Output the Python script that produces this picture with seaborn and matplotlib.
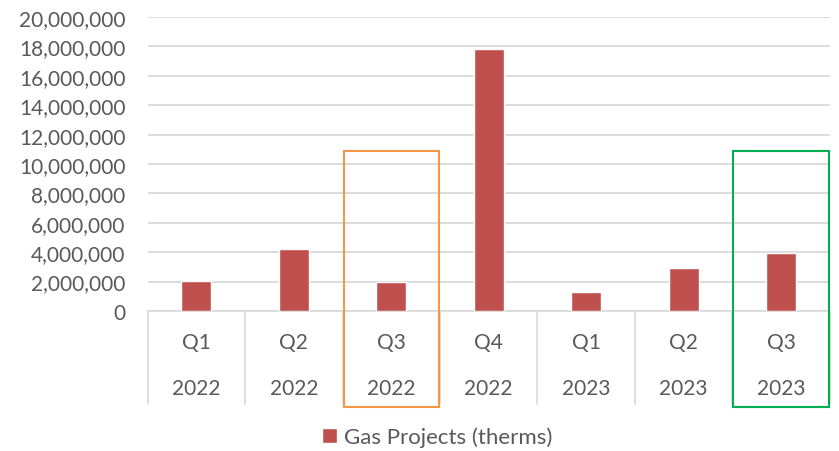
import pandas as pd
import matplotlib
matplotlib.use("Agg")
import matplotlib.pyplot as plt
import matplotlib.ticker as mtick
import matplotlib.transforms as mtrans
from matplotlib.patches import Rectangle
import seaborn as sns

quarters = ["Q1", "Q2", "Q3", "Q4", "Q1", "Q2", "Q3"]
years = ["2022", "2022", "2022", "2022", "2023", "2023", "2023"]
gas_therms = [2050000, 4200000, 1950000, 17850000, 1300000, 2900000, 3950000]
highlight = {2: "#F79646", 6: "#00B050"}

sns.set_theme(style="white")
plt.rcParams["font.family"] = ["Lato", "DejaVu Sans"]
text_color = "#595959"
grid_color = "#D9D9D9"

df = pd.DataFrame({"period": [f"{q} {y}" for q, y in zip(quarters, years)],
                   "therms": gas_therms})

fig = plt.figure(figsize=(8.39, 4.52), dpi=100)
ax = fig.add_axes([0.176, 0.310, 0.813, 0.650])

sns.barplot(data=df, x="period", y="therms", color="#C0504D", width=0.31,
            saturation=1, label="Gas Projects (therms)", ax=ax, zorder=3)

ax.set_ylim(0, 20000000)
ax.set_xlim(-0.5, len(df) - 0.5)
ax.yaxis.set_major_locator(mtick.MultipleLocator(2000000))
ax.yaxis.set_major_formatter(mtick.FuncFormatter(lambda x, _: f"{x:,.0f}"))
ax.grid(axis="y", color=grid_color, linewidth=1.3, zorder=0)
for s in ["top", "right", "left"]:
    ax.spines[s].set_visible(False)
ax.spines["bottom"].set_color(grid_color)
ax.spines["bottom"].set_linewidth(1.2)
ax.tick_params(axis="y", labelsize=15, colors=text_color, length=0, pad=16)
ax.tick_params(axis="x", labelsize=15, colors=text_color, length=0, pad=15)
ax.set_xticks(range(len(df)))
ax.set_xticklabels(quarters)
ax.set_xlabel("")
ax.set_ylabel("")

# second level of category axis
trans = mtrans.blended_transform_factory(ax.transData, ax.transAxes)
for i, y in enumerate(years):
    ax.text(i, -0.264, y, transform=trans, ha="center", va="center",
            fontsize=15, color=text_color)
for i in range(len(df) + 1):
    ax.plot([i - 0.5, i - 0.5], [0, -0.317], transform=trans, color=grid_color,
            linewidth=1.2, clip_on=False)

# highlight boxes
for i, col in highlight.items():
    ax.add_patch(Rectangle((i - 0.49, -0.327), 0.98, 0.871, transform=trans,
                           fill=False, edgecolor=col, linewidth=1.5,
                           clip_on=False, zorder=5))

handles, labels = ax.get_legend_handles_labels()
if ax.get_legend():
    ax.get_legend().remove()
fig.legend(handles, labels, loc="center", bbox_to_anchor=(0.521, 0.031),
           frameon=False, fontsize=16, labelcolor=text_color,
           handlelength=0.7, handleheight=0.7, handletextpad=0.3)

fig.savefig("out.png", dpi=100)
